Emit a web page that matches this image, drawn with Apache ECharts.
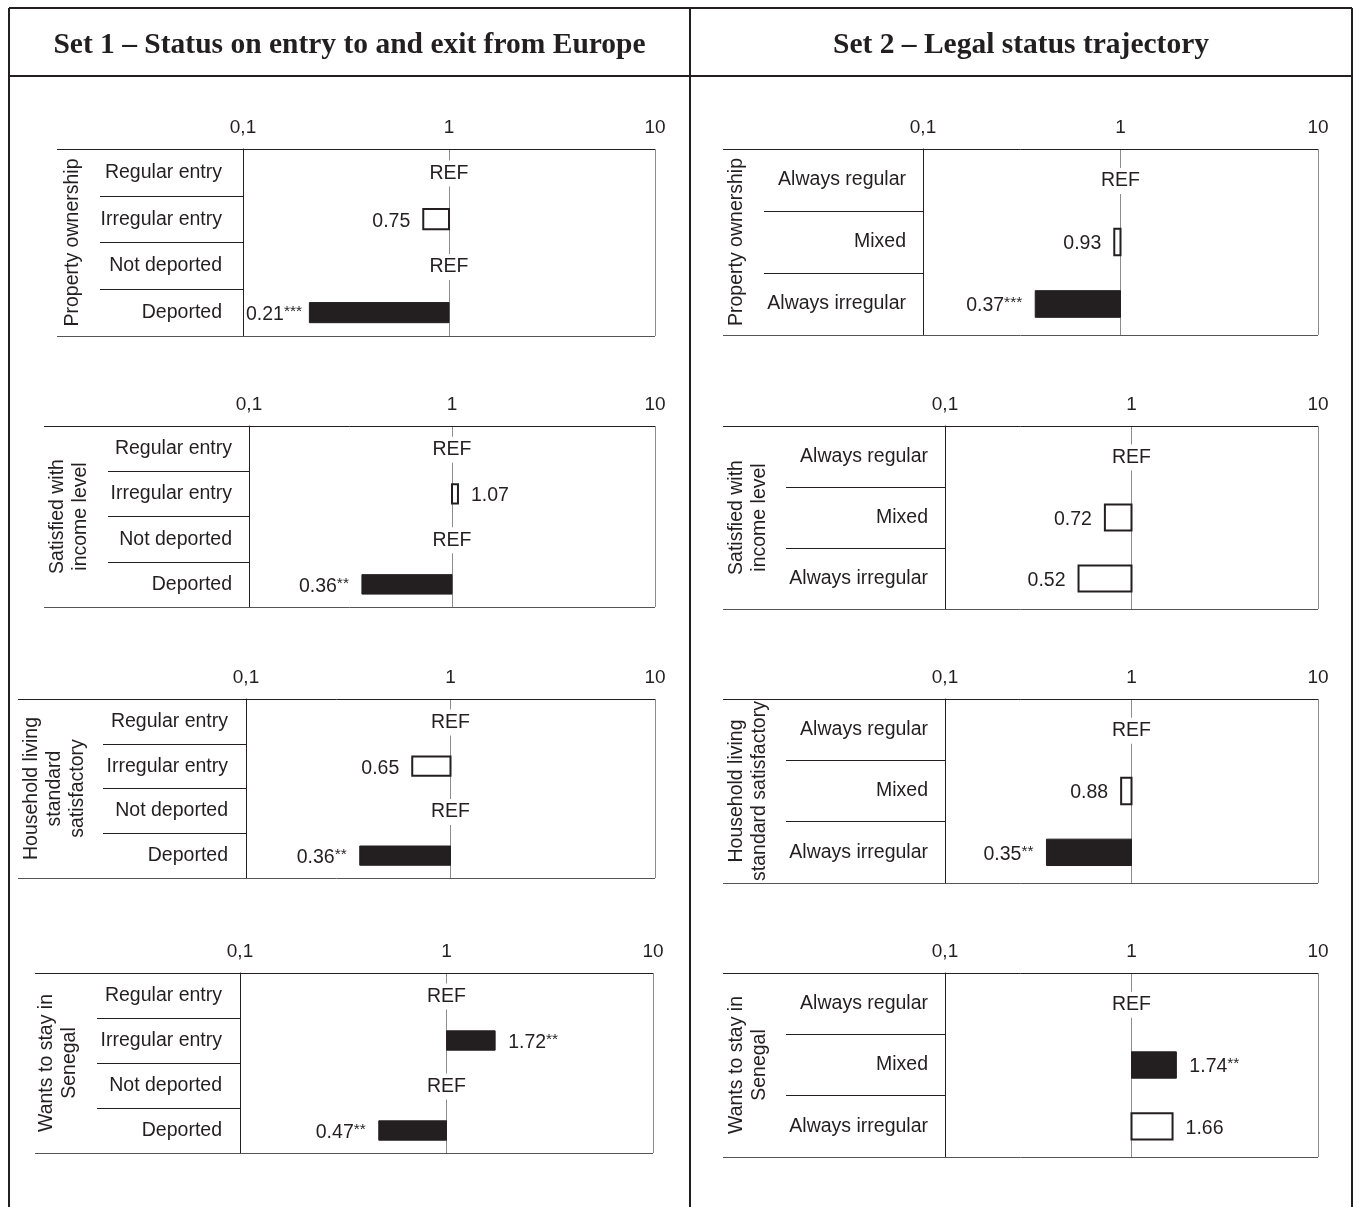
<!DOCTYPE html>
<html><head><meta charset="utf-8">
<script src="https://cdn.jsdelivr.net/npm/echarts@6/dist/echarts.min.js"></script>
<style>html,body{margin:0;padding:0;background:#fff}#c{width:1356px;height:1207px}</style>
</head><body><div id="c"></div>
<script>
// ---------- DATA ----------
const set1Categories = ['Regular entry', 'Irregular entry', 'Not deported', 'Deported'];
const set2Categories = ['Always regular', 'Mixed', 'Always irregular'];
const tickValues = [0.1, 1, 10];
const tickLabels = ['0,1', '1', '10'];
const headerTitles = ['Set 1 \u2013 Status on entry to and exit from Europe', 'Set 2 \u2013 Legal status trajectory'];
const outcomeTitlesSet1 = ['Property ownership', 'Satisfied with\nincome level', 'Household living\nstandard\nsatisfactory', 'Wants to stay in\nSenegal'];
const outcomeTitlesSet2 = ['Property ownership', 'Satisfied with\nincome level', 'Household living\nstandard satisfactory', 'Wants to stay in\nSenegal'];
// null = reference category (REF)
const set1Property = [null, 0.75, null, 0.21];
const set1PropertyStars = ['', '', '', '***'];
const set1Income = [null, 1.07, null, 0.36];
const set1IncomeStars = ['', '', '', '**'];
const set1Living = [null, 0.65, null, 0.36];
const set1LivingStars = ['', '', '', '**'];
const set1Stay = [null, 1.72, null, 0.47];
const set1StayStars = ['', '**', '', '**'];
const set2Property = [null, 0.93, 0.37];
const set2PropertyStars = ['', '', '***'];
const set2Income = [null, 0.72, 0.52];
const set2IncomeStars = ['', '', ''];
const set2Living = [null, 0.88, 0.35];
const set2LivingStars = ['', '', '**'];
const set2Stay = [null, 1.74, 1.66];
const set2StayStars = ['', '**', ''];

// ---------- LAYOUT / STYLE ----------
const INK = '#231f20';
const GRAY = '#8c8c8c';
const SANS = '"Liberation Sans", Arial, sans-serif';
const FS = 19.5;
const STAR_FS = 15.5;

const panels = [
  {cats: set1Categories, vals: set1Property, stars: set1PropertyStars, title: outcomeTitlesSet1[0],
   axisX: 243, rightX: 655, top: 149, bottom: 336, lineLeft: 57, sepLeft: 100, titleX: 73, labelMargin: 21},
  {cats: set1Categories, vals: set1Income, stars: set1IncomeStars, title: outcomeTitlesSet1[1],
   axisX: 249, rightX: 655, top: 426, bottom: 607, lineLeft: 44, sepLeft: 108, titleX: 69, labelMargin: 17},
  {cats: set1Categories, vals: set1Living, stars: set1LivingStars, title: outcomeTitlesSet1[2],
   axisX: 246, rightX: 655, top: 699, bottom: 878, lineLeft: 18, sepLeft: 103, titleX: 55, labelMargin: 18},
  {cats: set1Categories, vals: set1Stay, stars: set1StayStars, title: outcomeTitlesSet1[3],
   axisX: 240, rightX: 653, top: 973, bottom: 1153, lineLeft: 35, sepLeft: 97, titleX: 58.5, labelMargin: 18},
  {cats: set2Categories, vals: set2Property, stars: set2PropertyStars, title: outcomeTitlesSet2[0],
   axisX: 923, rightX: 1318, top: 149, bottom: 335, lineLeft: 723, sepLeft: 764, titleX: 737, labelMargin: 17},
  {cats: set2Categories, vals: set2Income, stars: set2IncomeStars, title: outcomeTitlesSet2[1],
   axisX: 945, rightX: 1318, top: 426, bottom: 609, lineLeft: 723, sepLeft: 786, titleX: 748.5, labelMargin: 17},
  {cats: set2Categories, vals: set2Living, stars: set2LivingStars, title: outcomeTitlesSet2[2],
   axisX: 945, rightX: 1318, top: 699, bottom: 883, lineLeft: 723, sepLeft: 786, titleX: 748.5, labelMargin: 17},
  {cats: set2Categories, vals: set2Stay, stars: set2StayStars, title: outcomeTitlesSet2[3],
   axisX: 945, rightX: 1318, top: 973, bottom: 1157, lineLeft: 723, sepLeft: 786, titleX: 748.5, labelMargin: 17}
];

const mctx = document.createElement('canvas').getContext('2d');
function textWidth(t, size) { mctx.font = size + 'px "Liberation Sans"'; return mctx.measureText(t).width; }

function tickLabel(v) {
  const e = Math.round(Math.log10(v));
  const i = tickValues.findIndex(t => Math.round(Math.log10(t)) === e);
  return i >= 0 ? tickLabels[i] : '';
}

function makeRender(p) {
  return function (params, api) {
    const k = params.dataIndex;
    const cat = api.value(1);
    const p1 = api.coord([1, cat]);
    const pMin = api.coord([0.1, cat]);
    const band = api.size([0, 1], [1, cat])[1];
    const cy = p1[1];
    const v = p.vals[k];
    if (v == null) {
      return {type: 'text', x: p1[0], y: cy + 1, z2: 10,
        style: {text: 'REF', fill: INK, fontSize: FS, fontFamily: SANS, align: 'center', verticalAlign: 'middle',
                backgroundColor: '#fff', padding: [3, 1]}};
    }
    const pv = api.coord([v, cat]);
    const h = band * 0.43;
    const x0 = Math.min(pv[0], p1[0]);
    const w = Math.abs(pv[0] - p1[0]);
    const star = p.stars[k];
    const sig = star !== '';
    const rect = {type: 'rect', shape: {x: x0, y: cy - h / 2, width: w, height: h},
      style: sig ? {fill: INK, stroke: INK, lineWidth: 1} : {fill: '#fff', stroke: INK, lineWidth: 2}};
    const gap = 13;
    const num = v.toFixed(2);
    const txt = star ? '{v|' + num + '}{s|' + star + '}' : '{v|' + num + '}';
    const width = textWidth(num, FS) + (star ? textWidth(star, STAR_FS) : 0);
    let tx, align;
    if (v < 1) {
      tx = pv[0] - gap; align = 'right';
      if (tx - width < pMin[0] + 3) tx = pMin[0] + 3 + width;
    } else {
      tx = Math.max(pv[0], p1[0]) + gap; align = 'left';
    }
    const label = {type: 'text', x: tx, y: cy + 2,
      style: {text: txt, align: align, verticalAlign: 'middle',
        rich: {v: {fontSize: FS, fontFamily: SANS, fill: INK, lineHeight: 22},
               s: {fontSize: STAR_FS, fontFamily: SANS, fill: INK, verticalAlign: 'top', lineHeight: 18}}}};
    return {type: 'group', children: [rect, label]};
  };
}

const grids = [], xAxes = [], yAxes = [], series = [], graphics = [];
panels.forEach((p, i) => {
  grids.push({left: p.axisX, top: p.top, width: p.rightX - p.axisX, height: p.bottom - p.top, containLabel: false, outerBoundsMode: 'none'});
  xAxes.push({gridIndex: i, type: 'log', logBase: 10, min: 0.1, max: 10, position: 'top',
    axisLine: {show: false}, axisTick: {show: false},
    axisLabel: {formatter: tickLabel, fontSize: FS - 0.5, fontFamily: SANS, color: INK, margin: 12},
    splitLine: {show: true, showMinLine: false, showMaxLine: true, lineStyle: {color: GRAY, width: 1}}});
  // labelled axis
  yAxes.push({gridIndex: i, type: 'category', data: p.cats, inverse: true, position: 'left', offset: 0,
    axisLine: {show: true, lineStyle: {color: INK, width: 1}}, axisTick: {show: false},
    axisLabel: {fontSize: FS, fontFamily: SANS, color: INK, margin: p.labelMargin},
    splitLine: {show: false}});
  // row separators axis
  yAxes.push({gridIndex: i, type: 'category', data: p.cats, inverse: true, position: 'left', offset: 0,
    axisLine: {show: false}, axisLabel: {show: false},
    axisTick: {show: true, inside: false, length: p.axisX - p.sepLeft, lineStyle: {color: INK, width: 1}},
    splitLine: {show: false}});
  series.push({type: 'custom', xAxisIndex: i, yAxisIndex: i * 2, z: 5,
    data: p.cats.map((c, k) => [p.vals[k] == null ? 1 : p.vals[k], k]),
    renderItem: makeRender(p), clip: false, silent: true});
  // panel top & bottom lines
  graphics.push({type: 'line', shape: {x1: p.lineLeft, y1: p.top + 0.5, x2: p.rightX, y2: p.top + 0.5},
    style: {stroke: INK, lineWidth: 1}, z: 20});
  graphics.push({type: 'line', shape: {x1: p.lineLeft, y1: p.bottom + 0.5, x2: p.rightX, y2: p.bottom + 0.5},
    style: {stroke: '#555', lineWidth: 1}, z: 20});
  // outcome title (rotated)
  graphics.push({type: 'text', x: p.titleX, y: (p.top + p.bottom) / 2, rotation: Math.PI / 2,
    style: {text: p.title, fill: INK, fontSize: FS, fontFamily: SANS, align: 'center', verticalAlign: 'middle', lineHeight: 23}, z: 20});
});

// frame
const frame = [
  [9, 8, 1352, 8], [9, 76, 1352, 76], [9, 8, 9, 1207], [1352, 8, 1352, 1207], [690, 8, 690, 1207]
];
frame.forEach(f => graphics.push({type: 'line', shape: {x1: f[0], y1: f[1], x2: f[2], y2: f[3]},
  style: {stroke: INK, lineWidth: 2}, z: 30}));
graphics.push({type: 'text', x: 349.5, y: 45, style: {text: headerTitles[0], fill: INK,
  font: 'bold 29.5px "Liberation Serif", "Times New Roman", serif', align: 'center', verticalAlign: 'middle'}, z: 30});
graphics.push({type: 'text', x: 1021, y: 45, style: {text: headerTitles[1], fill: INK,
  font: 'bold 29.5px "Liberation Serif", "Times New Roman", serif', align: 'center', verticalAlign: 'middle'}, z: 30});

const chart = echarts.init(document.getElementById('c'), null, {renderer: 'canvas'});
chart.setOption({
  backgroundColor: '#fff',
  animation: false,
  textStyle: {fontFamily: SANS},
  grid: grids, xAxis: xAxes, yAxis: yAxes, series: series, graphic: graphics
});
</script></body></html>
